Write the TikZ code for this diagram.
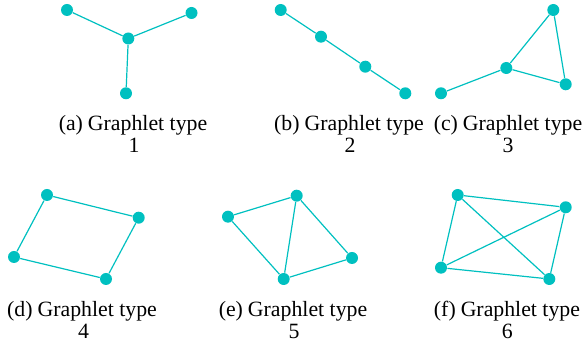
\documentclass[tikz,border=0pt]{standalone}
\usepackage{fontspec}
\setmainfont{Liberation Serif}
\definecolor{gteal}{RGB}{0,192,192}
\tikzset{
  vtx/.style={circle,fill=gteal,draw=none,minimum size=6pt,inner sep=0pt},
  edg/.style={draw=gteal,line width=0.6pt},
  captext/.style={anchor=base,inner sep=0pt,font=\fontsize{10.9}{12}\selectfont}
}
\newcommand{\sublab}[1]{(#1)\hspace{2.5pt}}
\begin{document}
\begin{tikzpicture}[x=0.5pt,y=-0.5pt]
\useasboundingbox (0,0) rectangle (584,346);
% (a)
\node[vtx] (a1) at (67,10) {};
\node[vtx] (a2) at (191.5,13) {};
\node[vtx] (a3) at (128.3,38.5) {};
\node[vtx] (a4) at (126,93.3) {};
\draw[edg] (a3) -- (a1) (a3) -- (a2) (a3) -- (a4);
% (b)
\node[vtx] (b1) at (280.7,10) {};
\node[vtx] (b2) at (321,36.7) {};
\node[vtx] (b3) at (365.3,66.7) {};
\node[vtx] (b4) at (405.3,93.3) {};
\draw[edg] (b1) -- (b2) -- (b3) -- (b4);
% (c)
\node[vtx] (c1) at (553.3,10) {};
\node[vtx] (c2) at (506.3,68) {};
\node[vtx] (c3) at (565.7,84.3) {};
\node[vtx] (c4) at (441,93.3) {};
\draw[edg] (c1) -- (c2) (c1) -- (c3) (c2) -- (c3) (c2) -- (c4);
% (d)
\node[vtx] (d1) at (47,195) {};
\node[vtx] (d2) at (138.7,217.7) {};
\node[vtx] (d3) at (106,279) {};
\node[vtx] (d4) at (14,257) {};
\draw[edg] (d1) -- (d2) -- (d3) -- (d4) -- (d1);
% (e)
\node[vtx] (e1) at (228,216.7) {};
\node[vtx] (e2) at (296.7,195.7) {};
\node[vtx] (e3) at (352,258) {};
\node[vtx] (e4) at (283.7,279) {};
\draw[edg] (e1) -- (e2) -- (e3) -- (e4) -- (e1) (e2) -- (e4);
% (f)
\node[vtx] (f1) at (457.7,195) {};
\node[vtx] (f2) at (565.7,207.3) {};
\node[vtx] (f3) at (549.3,279) {};
\node[vtx] (f4) at (441,267.7) {};
\draw[edg] (f1) -- (f2) -- (f3) -- (f4) -- (f1) (f1) -- (f3) (f2) -- (f4);
% captions
\node[captext] (ta) at (133,131) {\sublab{a}Graphlet type};
\node[captext] (na) at (134,152.7) {1};
\node[captext] (tb) at (349,131) {\sublab{b}Graphlet type};
\node[captext] (nb) at (350,152.7) {2};
\node[captext] (tc) at (508,131) {\sublab{c}Graphlet type};
\node[captext] (nc) at (508,152.7) {3};
\node[captext] (td) at (82,316.5) {\sublab{d}Graphlet type};
\node[captext] (nd) at (83.5,338.2) {4};
\node[captext] (te) at (293,316.5) {\sublab{e}Graphlet type};
\node[captext] (ne) at (294,338.2) {5};
\node[captext] (tf) at (507,316.5) {\sublab{f}Graphlet type};
\node[captext] (nf) at (507.3,338.2) {6};
\end{tikzpicture}
\end{document}
